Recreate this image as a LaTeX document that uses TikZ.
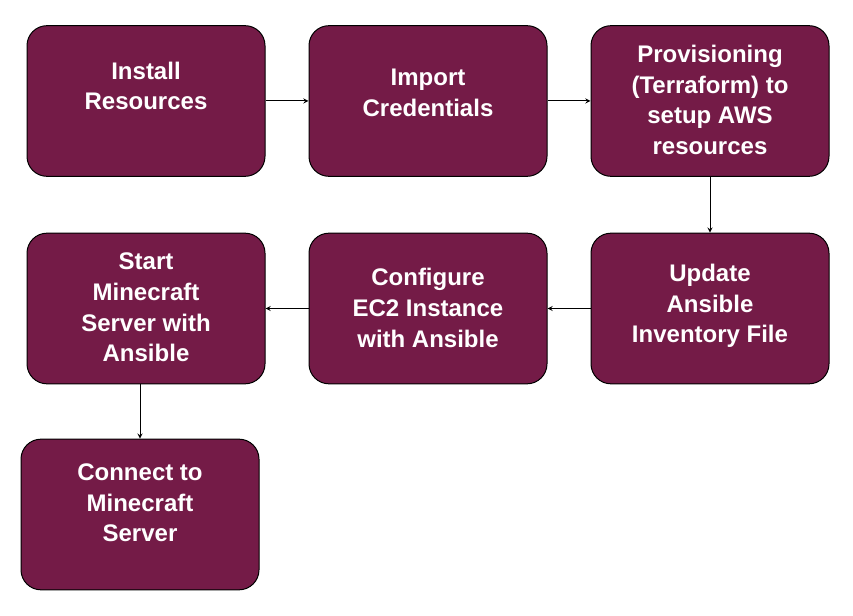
\documentclass[tikz,border=0pt]{standalone}
\usepackage{fontspec}
\setmainfont{Liberation Sans}
\colorlet{colorStep}{red!45!blue!40!black}
\definecolor{colorStep}{HTML}{741B47}
\colorlet{colorLine}{black}
\tikzset{
   every path/.style={>=stealth},
   stepbox/.style={draw=colorLine,fill=colorStep,line width=0.75pt,rounded corners=15pt,
     minimum width=178.5pt,minimum height=113pt,inner sep=0pt},
   steptext/.style={text=white,align=center,inner sep=0pt,
     font=\bfseries\fontsize{18}{23}\selectfont},
   nx/.style={->,color=colorLine,line width=0.75pt},
 }
\newcommand{\dnx}[2]{\draw[nx] (#1) -- (#2)}

\begin{document}
\begin{tikzpicture}[x=0.75pt,y=-0.75pt]
      \useasboundingbox (0,0) rectangle (853,616);

      \node[stepbox] (install) at (146,101) {};
      \node[steptext] (installT) at (146,86) {Install\\Resources};

      \node[stepbox] (import) at (428,101) {};
      \node[steptext] (importT) at (428,93) {Import\\Credentials};
      \dnx{install.east}{import.west};

      \node[stepbox] (prov) at (710,101) {};
      \node[steptext] (provT) at (710,100) {Provisioning\\(Terraform) to\\setup AWS\\resources};
      \dnx{import.east}{prov.west};

      \node[stepbox] (update) at (710,308.5) {};
      \node[steptext] (updateT) at (710,306) {Update\\Ansible\\Inventory File};
      \dnx{prov.south}{update.north};

      \node[stepbox] (config) at (428,308.5) {};
      \node[steptext] (configT) at (428,308) {Configure\\EC2 Instance\\with Ansible};
      \dnx{update.west}{config.east};

      \node[stepbox] (start) at (146,308.5) {};
      \node[steptext] (startT) at (146,307.5) {Start\\Minecraft\\Server with\\Ansible};
      \dnx{config.west}{start.east};

      \node[stepbox] (connect) at (140,514.5) {};
      \node[steptext] (connectT) at (140,503) {Connect to\\Minecraft\\Server};
      \dnx{start.south -| connect.north}{connect.north};
    \end{tikzpicture}
\end{document}
